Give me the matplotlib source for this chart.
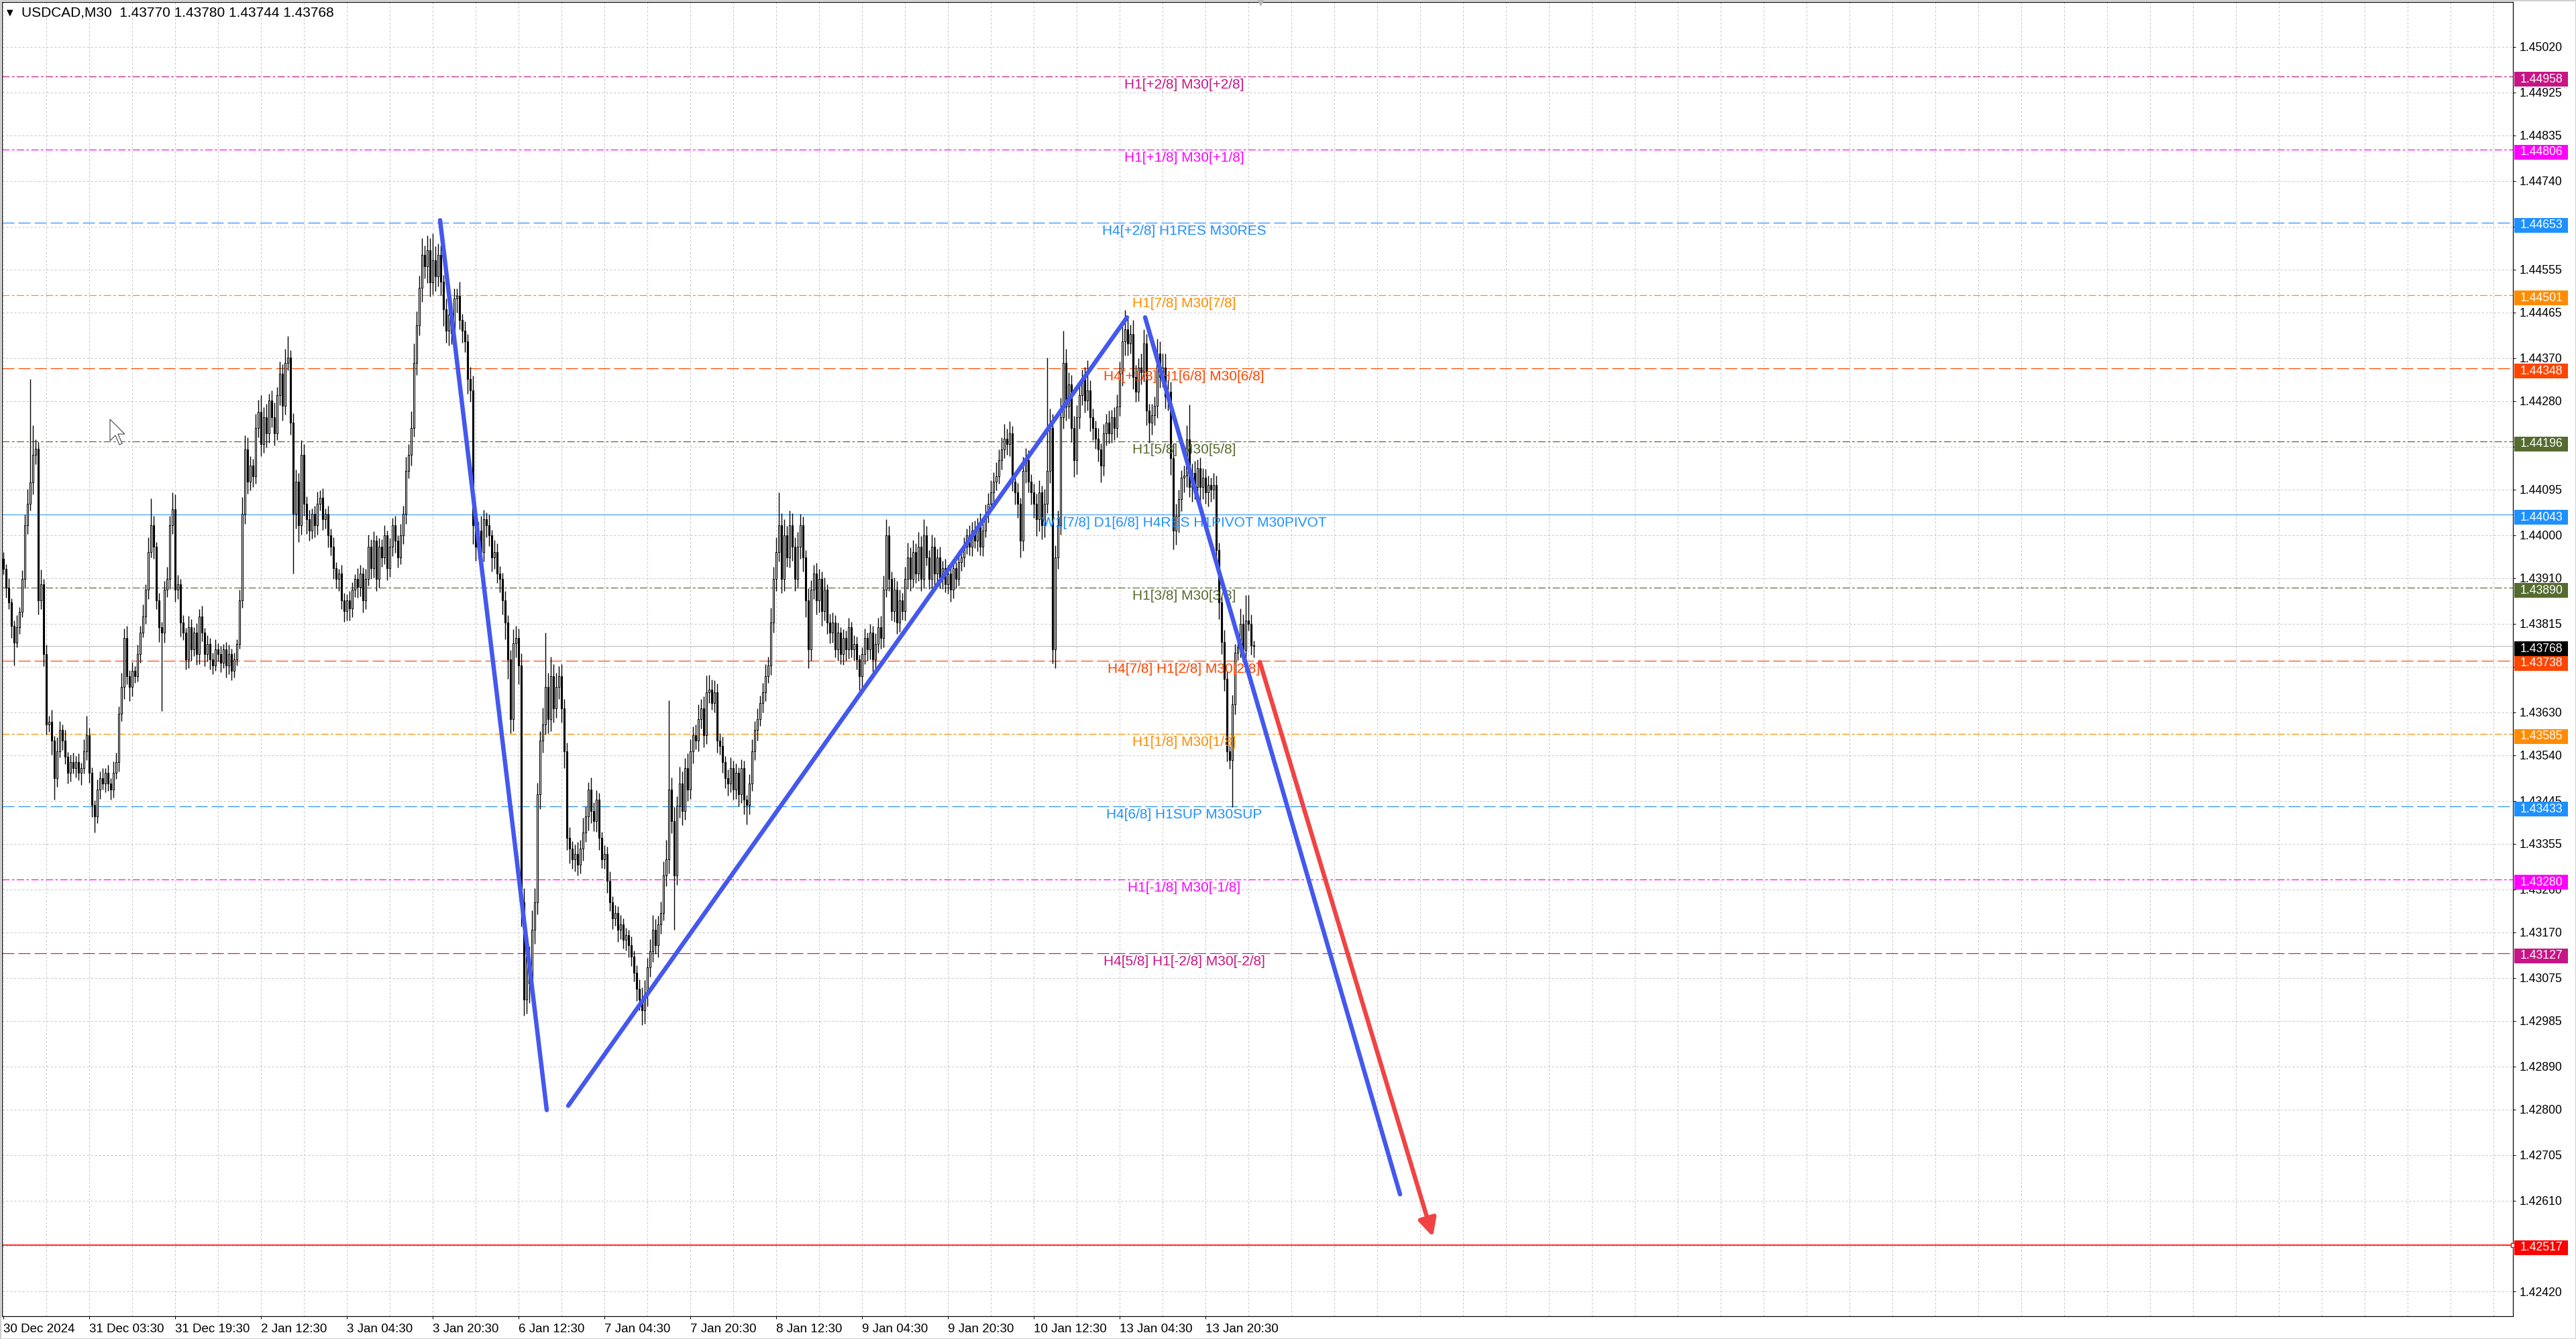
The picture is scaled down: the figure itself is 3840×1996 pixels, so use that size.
import numpy as np
import matplotlib
matplotlib.use('Agg')
import matplotlib.pyplot as plt
import matplotlib.transforms as mtransforms
from matplotlib.patches import Rectangle, Polygon

plt.rcParams['font.family'] = ['Liberation Sans', 'DejaVu Sans']

W, H, DPI = 3840, 1996, 100
PX = 72.0 / DPI   # one pixel in points

## USDCAD M30 bars, price = 1.4 + points/100000
open0 = 3950
close_pts = [
    3930, 3890, 3860, 3810, 3775, 3808, 3840, 3909, 4021, 4066, 4110, 4168, 4180, 3864, 3898, 3751,
    3604, 3610, 3571, 3492, 3548, 3593, 3571, 3537, 3503, 3526, 3514, 3526, 3503, 3514, 3548, 3582,
    3503, 3436, 3413, 3469, 3492, 3481, 3503, 3481, 3469, 3503, 3526, 3627, 3683, 3785, 3706, 3683,
    3717, 3706, 3751, 3796, 3830, 3886, 3965, 4021, 3976, 3864, 3807, 3796, 3886, 3909, 4021, 4055,
    3886, 3897, 3818, 3796, 3740, 3807, 3762, 3796, 3751, 3830, 3796, 3751, 3773, 3740, 3728, 3762,
    3751, 3734, 3762, 3728, 3751, 3717, 3740, 3773, 3864, 4044, 4179, 4112, 4145, 4123, 4224, 4258,
    4190, 4247, 4213, 4281, 4247, 4213, 4292, 4337, 4270, 4360, 4371, 4235, 4044, 4112, 4021, 4168,
    4066, 4033, 4010, 4044, 4021, 4066, 4078, 4033, 4044, 3999, 3976, 3931, 3909, 3920, 3864, 3841,
    3864, 3847, 3886, 3909, 3892, 3920, 3864, 3909, 3976, 3931, 3988, 3909, 3976, 3954, 3999, 3931,
    3976, 4021, 3988, 3954, 3999, 4044, 4134, 4168, 4224, 4360, 4438, 4517, 4585, 4562, 4596, 4528,
    4574, 4540, 4585, 4529, 4472, 4427, 4461, 4421, 4495, 4500, 4450, 4427, 4405, 4326, 4303, 4021,
    3976, 4010, 3965, 4033, 4021, 3999, 3954, 3965, 3920, 3909, 3864, 3818, 3740, 3616, 3774, 3785,
    3728, 3233, 3030, 3120, 3063, 3176, 3233, 3458, 3571, 3604, 3683, 3616, 3706, 3638, 3683, 3706,
    3638, 3548, 3368, 3345, 3323, 3334, 3311, 3345, 3379, 3413, 3469, 3424, 3402, 3447, 3368, 3323,
    3334, 3278, 3233, 3199, 3210, 3176, 3187, 3154, 3165, 3143, 3120, 3086, 3052, 3030, 3007, 3041,
    3097, 3131, 3176, 3143, 3187, 3210, 3289, 3323, 3469, 3402, 3289, 3435, 3481, 3424, 3514, 3469,
    3548, 3582, 3571, 3616, 3638, 3582, 3672, 3678, 3650, 3672, 3571, 3559, 3526, 3492, 3481, 3514,
    3469, 3503, 3458, 3514, 3447, 3436, 3481, 3548, 3593, 3616, 3650, 3672, 3706, 3728, 3818, 3909,
    3965, 4021, 3909, 3999, 3954, 4021, 3976, 3909, 3976, 4021, 3954, 3864, 3762, 3886, 3920, 3864,
    3909, 3841, 3886, 3818, 3796, 3818, 3762, 3796, 3751, 3785, 3762, 3807, 3762, 3773, 3740, 3706,
    3751, 3785, 3762, 3796, 3740, 3773, 3807, 3785, 3886, 3999, 3909, 3841, 3886, 3818, 3864, 3841,
    3909, 3954, 3909, 3965, 3920, 3976, 3909, 3999, 3954, 3909, 3976, 3920, 3954, 3909, 3931, 3898,
    3920, 3886, 3931, 3909, 3943, 3954, 3976, 3999, 3976, 4010, 3988, 4021, 3976, 4010, 4044, 4066,
    4089, 4112, 4123, 4157, 4179, 4202, 4190, 4213, 4112, 4089, 4066, 3988, 4134, 4157, 4112, 4089,
    4066, 4033, 4089, 4021, 4066, 4134, 4224, 3762, 3954, 4021, 4247, 4360, 4269, 4315, 4224, 4157,
    4247, 4292, 4326, 4281, 4303, 4247, 4224, 4202, 4179, 4145, 4213, 4235, 4213, 4247, 4224, 4269,
    4337, 4405, 4430, 4400, 4420, 4330, 4300, 4350, 4340, 4400, 4260, 4235, 4250, 4270, 4380, 4330,
    4350, 4290, 4300, 4161, 4010, 4040, 4075, 4120, 4125, 4200, 4100, 4130, 4100, 4140, 4100, 4120,
    4090, 4105, 4095, 4105, 3969, 3860, 3777, 3700, 3548, 3530, 3646, 3754, 3765, 3815, 3760, 3822,
    3815, 3770, 3768,
]
up_pts = [
    15, 10, 20, 8, 12, 25, 10, 18, 22, 30, 216, 62, 20, 15, 30, 10,
    20, 12, 25, 10, 30, 18, 12, 22, 10, 15, 20, 12, 18, 10, 25, 40,
    15, 12, 10, 20, 15, 22, 10, 18, 12, 25, 20, 15, 30, 20, 25, 12,
    18, 10, 20, 15, 25, 12, 30, 56, 20, 10, 15, 12, 18, 25, 20, 34,
    30, 20, 12, 15, 10, 25, 18, 12, 20, 15, 22, 10, 18, 12, 15, 20,
    12, 18, 10, 15, 20, 12, 15, 10, 22, 35, 30, 25, 20, 15, 30, 25,
    35, 20, 28, 15, 22, 30, 18, 25, 20, 30, 45, 15, 20, 25, 18, 30,
    22, 15, 20, 12, 18, 25, 15, 20, 12, 18, 15, 20, 12, 10, 18, 15,
    12, 20, 15, 10, 22, 18, 12, 20, 25, 15, 20, 12, 18, 15, 22, 10,
    18, 15, 20, 12, 25, 18, 30, 22, 35, 40, 30, 25, 35, 20, 30, 25,
    56, 30, 25, 20, 15, 22, 18, 25, 20, 15, 30, 12, 20, 15, 25, 30,
    25, 18, 30, 20, 15, 22, 12, 25, 18, 15, 12, 20, 15, 20, 30, 25,
    20, 25, 30, 35, 20, 40, 30, 25, 20, 35, 113, 30, 40, 25, 30, 20,
    25, 20, 18, 22, 15, 20, 25, 18, 30, 20, 15, 25, 18, 20, 15, 12,
    18, 15, 20, 12, 18, 15, 20, 12, 15, 10, 18, 12, 15, 20, 25, 30,
    20, 25, 30, 22, 18, 25, 30, 40, 186, 25, 30, 20, 35, 25, 20, 30,
    25, 18, 22, 30, 20, 25, 35, 30, 20, 25, 18, 15, 20, 12, 18, 22,
    15, 20, 12, 18, 15, 10, 20, 25, 18, 22, 15, 20, 25, 18, 30, 25,
    30, 68, 25, 35, 20, 30, 25, 20, 30, 23, 18, 15, 25, 20, 18, 22,
    20, 15, 25, 12, 18, 20, 15, 22, 12, 18, 15, 20, 12, 18, 15, 10,
    15, 20, 12, 18, 15, 22, 20, 25, 30, 35, 20, 15, 25, 18, 22, 15,
    25, 30, 20, 25, 18, 30, 22, 35, 20, 15, 25, 20, 18, 22, 15, 20,
    18, 15, 20, 12, 25, 18, 20, 15, 22, 18, 20, 15, 25, 18, 20, 22,
    25, 20, 30, 22, 25, 30, 20, 25, 15, 18, 20, 12, 30, 25, 20, 15,
    18, 20, 25, 15, 30, 237, 40, 30, 25, 30, 40, 67, 30, 25, 20, 25,
    25, 30, 20, 25, 62, 20, 18, 15, 22, 12, 20, 18, 25, 15, 20, 25,
    25, 30, 40, 25, 20, 30, 25, 20, 30, 30, 20, 15, 25, 20, 30, 25,
    30, 30, 25, 20, 30, 25, 20, 15, 20, 30, 73, 20, 25, 18, 22, 20,
    18, 20, 15, 25, 20, 15, 12, 25, 15, 12, 20, 18, 25, 32, 20, 53,
    53, 20, 10,
]
dn_pts = [
    12, 20, 15, 25, 47, 10, 15, 12, 20, 18, 15, 25, 20, 30, 18, 25,
    20, 15, 30, 45, 18, 12, 20, 15, 22, 18, 12, 20, 15, 25, 12, 18,
    20, 25, 34, 15, 20, 12, 18, 15, 22, 18, 12, 20, 15, 25, 18, 30,
    20, 15, 12, 18, 10, 15, 20, 12, 25, 18, 30, 163, 20, 15, 22, 18,
    25, 20, 30, 15, 20, 18, 25, 15, 22, 20, 18, 25, 15, 20, 18, 12,
    15, 20, 12, 25, 18, 20, 15, 12, 10, 15, 20, 25, 18, 22, 15, 20,
    25, 18, 30, 20, 22, 25, 15, 20, 30, 18, 15, 25, 124, 30, 35, 20,
    25, 30, 22, 18, 25, 20, 15, 22, 20, 25, 18, 22, 20, 25, 18, 22,
    20, 25, 18, 15, 22, 20, 25, 18, 15, 22, 20, 25, 18, 20, 15, 25,
    18, 20, 25, 22, 15, 18, 20, 15, 22, 18, 25, 20, 30, 25, 35, 30,
    25, 30, 20, 28, 35, 25, 30, 22, 25, 30, 20, 25, 22, 30, 25, 40,
    30, 25, 35, 20, 25, 22, 30, 25, 20, 28, 30, 35, 40, 30, 25, 30,
    40, 50, 34, 30, 40, 35, 30, 25, 30, 25, 20, 30, 25, 30, 20, 25,
    30, 35, 25, 30, 20, 25, 22, 18, 25, 20, 30, 25, 20, 22, 25, 18,
    20, 25, 18, 22, 15, 25, 20, 18, 22, 25, 20, 18, 25, 22, 30, 28,
    25, 20, 22, 18, 25, 20, 15, 22, 30, 25, 113, 20, 25, 30, 18, 25,
    20, 25, 18, 22, 20, 25, 18, 22, 15, 20, 25, 18, 22, 20, 25, 18,
    22, 20, 25, 18, 30, 40, 20, 15, 18, 22, 15, 20, 18, 15, 20, 22,
    25, 20, 30, 25, 20, 22, 30, 25, 20, 25, 30, 35, 40, 25, 20, 30,
    25, 30, 20, 25, 22, 20, 18, 25, 20, 22, 25, 20, 18, 25, 20, 30,
    35, 20, 25, 22, 25, 20, 18, 22, 20, 15, 25, 20, 22, 25, 20, 18,
    20, 22, 25, 18, 20, 15, 25, 20, 18, 22, 20, 25, 18, 20, 22, 18,
    20, 25, 18, 20, 15, 18, 20, 15, 18, 20, 15, 22, 18, 20, 15, 18,
    15, 20, 18, 15, 20, 18, 22, 25, 20, 25, 30, 34, 20, 25, 22, 25,
    30, 35, 25, 30, 25, 20, 25, 30, 40, 25, 20, 25, 30, 25, 30, 35,
    30, 25, 20, 25, 20, 30, 25, 22, 25, 35, 20, 25, 22, 20, 25, 20,
    20, 25, 30, 25, 20, 25, 22, 20, 25, 20, 30, 42, 25, 20, 25, 22,
    20, 25, 30, 35, 40, 30, 35, 25, 30, 25, 20, 30, 25, 22, 30, 25,
    25, 30, 25, 20, 30, 35, 25, 25, 20, 18, 98, 20, 15, 20, 25, 20,
    15, 20, 24,
]

time_labels = ['30 Dec 2024', '31 Dec 03:30', '31 Dec 19:30', '2 Jan 12:30', '3 Jan 04:30',
               '3 Jan 20:30', '6 Jan 12:30', '7 Jan 04:30', '7 Jan 20:30', '8 Jan 12:30',
               '9 Jan 04:30', '9 Jan 20:30', '10 Jan 12:30', '13 Jan 04:30', '13 Jan 20:30']
bars_per_label = 32

price_ticks = [1.45020, 1.44925, 1.44835, 1.44740, 1.44645, 1.44555, 1.44465, 1.44370,
               1.44280, 1.44185, 1.44095, 1.44000, 1.43910, 1.43815, 1.43725, 1.43630,
               1.43540, 1.43445, 1.43355, 1.43260, 1.43170, 1.43075, 1.42985, 1.42890,
               1.42800, 1.42705, 1.42610, 1.42515, 1.42420]

## murrey math levels
level_prices = [1.44958, 1.44806, 1.44653, 1.44501, 1.44348, 1.44196, 1.44043,
                1.43890, 1.43738, 1.43585, 1.43433, 1.43280, 1.43127]
level_names = ['H1[+2/8] M30[+2/8]', 'H1[+1/8] M30[+1/8]', 'H4[+2/8] H1RES M30RES',
               'H1[7/8] M30[7/8]', 'H4[+1/8] H1[6/8] M30[6/8]', 'H1[5/8] M30[5/8]',
               'W1[7/8] D1[6/8] H4RES H1PIVOT M30PIVOT', 'H1[3/8] M30[3/8]',
               'H4[7/8] H1[2/8] M30[2/8]', 'H1[1/8] M30[1/8]', 'H4[6/8] H1SUP M30SUP',
               'H1[-1/8] M30[-1/8]', 'H4[5/8] H1[-2/8] M30[-2/8]']
level_colors = ['#C71585', '#FF00FF', '#1E90FF', '#FF8C00', '#FF4500', '#556B2F', '#1E90FF',
                '#556B2F', '#FF4500', '#FF8C00', '#1E90FF', '#FF00FF', '#C71585']
level_kind = ['dashdot', 'dashdot', 'dash', 'dashdot', 'dash', 'dashdot', 'solid',
              'dashdot', 'dash', 'dashdot', 'dash', 'dashdot', 'dash']
target_price = 1.42517

## trend lines (bar index, price)
trend_x = [[162.75, 202.5], [210.5, 418.75], [425.5, 520.5]]
trend_y = [[1.44658, 1.42799], [1.42808, 1.44455], [1.44455, 1.42623]]
arrow_x = [468.25, 532.75]
arrow_y = [1.43735, 1.42534]

closes = 1.4 + np.array(close_pts) / 1e5
opens = np.concatenate([[1.4 + open0 / 1e5], closes[:-1]])
highs = np.maximum(opens, closes) + np.array(up_pts) / 1e5
lows = np.minimum(opens, closes) - np.array(dn_pts) / 1e5
xs = np.arange(len(closes))

fig = plt.figure(figsize=(W / DPI, H / DPI), dpi=DPI)
fig.patch.set_facecolor('white')
fig.patch.set_edgecolor('#cfcfcf')
fig.patch.set_linewidth(3 * PX)
ax = fig.add_axes([3 / W, 34 / H, 3743 / W, 1959 / H])
ax.set_facecolor('white')
ymin, ymax = 1.423683, 1.451139
ax.set_ylim(ymin, ymax)
ax.set_xlim(-0.5, 935.25)
ppu = 1959 / (ymax - ymin)   # pixels per price unit

for s in ax.spines.values():
    s.set_color('black')
    s.set_linewidth(1.2 * PX)

# grid
grid_kw = dict(color='#c4c4c4', linewidth=PX, linestyle=(0, (3, 3)))
ax.set_yticks(price_ticks)
ax.set_yticklabels(['%.5f' % t for t in price_ticks])
ax.yaxis.tick_right()
ax.tick_params(axis='y', length=4 * PX, width=PX, pad=6 * PX, labelsize=12.7, colors='black')
label_bars = np.arange(len(time_labels)) * bars_per_label
ax.set_xticks(label_bars)
ax.set_xticklabels(time_labels, ha='left')
ax.set_xticks(np.arange(16, 935, 16), minor=True)
ax.tick_params(axis='x', which='major', length=4 * PX, width=PX, pad=5, labelsize=13.5)
ax.tick_params(axis='x', which='minor', length=0)
for lab in ax.get_xticklabels():
    lab.set_fontfamily(['Liberation Sans Narrow', 'Liberation Sans', 'DejaVu Sans'])
ax.grid(True, which='both', axis='x', **grid_kw)
ax.grid(True, which='major', axis='y', **grid_kw)
ax.set_axisbelow(True)

# level lines
dash_styles = {'dash': (0, (15, 5)), 'dashdot': (0, (9, 3, 3, 3)), 'solid': '-'}
for p, c, k in zip(level_prices, level_colors, level_kind):
    lw = PX if k == 'solid' else 1.2 * PX
    ax.axhline(p, color=c, linewidth=lw, linestyle=dash_styles[k], zorder=1)
ax.axhline(target_price, color='#FF0000', linewidth=1.6 * PX, zorder=1)
ax.plot([1.0], [target_price], marker='s', ms=5, mfc='white', mec='#FF0000', mew=1,
        transform=mtransforms.blended_transform_factory(ax.transAxes, ax.transData),
        clip_on=False, zorder=6)
ax.axhline(closes[-1], color='#C0C0C0', linewidth=1.2 * PX, zorder=1)

# candles
bull = closes >= opens
body_lo = np.minimum(opens, closes)
body_h = np.maximum(np.abs(closes - opens), 0.00002)
ax.vlines(xs, lows, highs, color='black', linewidth=1.4 * PX, zorder=2)
ax.bar(xs[bull], body_h[bull], bottom=body_lo[bull], width=0.62, color='white',
       edgecolor='black', linewidth=1.1 * PX, zorder=3)
ax.bar(xs[~bull], body_h[~bull], bottom=body_lo[~bull], width=0.62, color='black',
       edgecolor='black', linewidth=1.1 * PX, zorder=3)

# level labels
label_x = 440
for p, c, name in zip(level_prices, level_colors, level_names):
    ax.text(label_x, p - 3 / ppu, name, color=c, ha='center', va='top', fontsize=15, zorder=4)

# trend lines and projection arrow
for tx, ty in zip(trend_x, trend_y):
    ax.plot(tx, ty, color='#4458EE', linewidth=6.5 * PX, solid_capstyle='round', zorder=5)
ax.annotate('', xy=(arrow_x[1], arrow_y[1]), xytext=(arrow_x[0], arrow_y[0]),
            arrowprops=dict(arrowstyle='-|>', color='#F04444', lw=6.5 * PX,
                            mutation_scale=40, shrinkA=0, shrinkB=0), zorder=5)

# shift marker at the top
ax.plot([len(closes) + 1.5], [1.0], marker='v', ms=7, color='#b8b8b8',
        transform=mtransforms.blended_transform_factory(ax.transData, ax.transAxes),
        clip_on=False, zorder=6)

# mouse pointer left on the chart
cursor = np.array([[0, 0], [0, 16], [4, 12], [7, 19], [9, 18], [6, 11], [11, 11]]) * 2.0
cursor = cursor + np.array([164, 625])
fig.add_artist(Polygon(np.column_stack([cursor[:, 0] / W, 1 - cursor[:, 1] / H]), closed=True,
                       facecolor='white', edgecolor='#505050', linewidth=1.2 * PX,
                       transform=fig.transFigure, zorder=6))

# price boxes on the right scale
trans_fy = mtransforms.blended_transform_factory(fig.transFigure, ax.transData)
box_prices = level_prices + [closes[-1], target_price]
box_colors = level_colors + ['#000000', '#FF0000']
for p, c in zip(box_prices, box_colors):
    yc = p - 4 / ppu
    fig.add_artist(Rectangle((3748 / W, yc - 11 / ppu), 80 / W, 22 / ppu, transform=trans_fy,
                             facecolor=c, edgecolor='none', zorder=5))
    fig.text(3757 / W, yc, '%.5f' % p, transform=trans_fy, color='white', fontsize=12.7,
             va='center', ha='left', zorder=6)

# header
fig.text(10 / W, 1 - 19 / H, '\u25bc', fontsize=9, family='DejaVu Sans', va='center', color='black')
fig.text(32 / W, 1 - 19 / H,
         'USDCAD,M30  %.5f %.5f %.5f %.5f' % (opens[-1], highs[-1], lows[-1], closes[-1]),
         fontsize=15, family=['Liberation Sans Narrow', 'Liberation Sans'], va='center', color='black')

fig.savefig('out.png', dpi=DPI)
